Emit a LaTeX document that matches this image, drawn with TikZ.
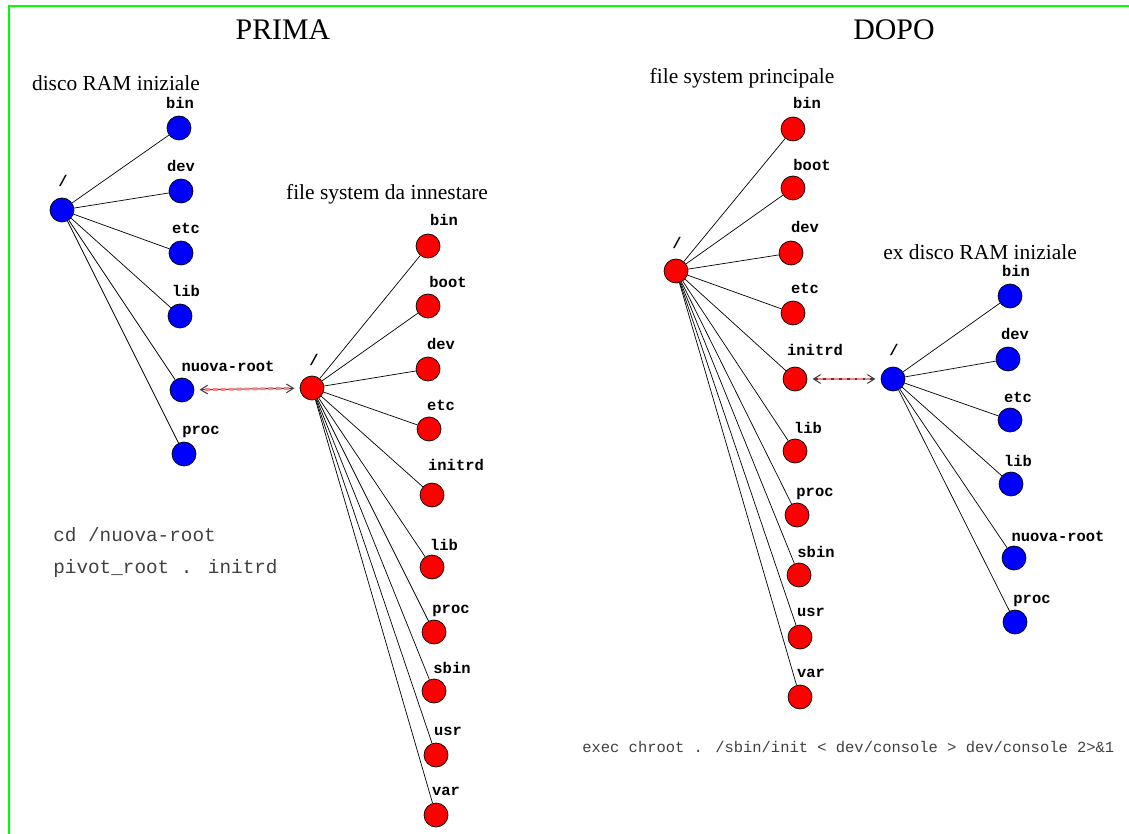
\documentclass[tikz,border=0pt]{standalone}
\usepackage{fontspec}
\setmainfont{Liberation Serif}
\newfontfamily\dirfont{Liberation Mono}
\usetikzlibrary{arrows.meta}

\begin{document}
\begin{tikzpicture}[x=0.02cm,y=-0.02cm,
	dir/.style={circle,draw=black,line width=0.4pt,minimum size=0.48cm,inner sep=0pt},
	ram/.style={dir,fill=blue},
	fs/.style={dir,fill=red},
	dname/.style={font=\dirfont\bfseries\fontsize{8.8}{10}\selectfont,inner sep=0pt,anchor=base},
	title/.style={font=\fontsize{17}{20}\selectfont,inner sep=0pt},
	tree/.style={font=\fontsize{12.2}{14}\selectfont,inner sep=0pt},
	cmd/.style={font=\dirfont\fontsize{11}{13}\selectfont,text=black!75,inner sep=0pt,anchor=base west},
	move/.style={<->,>={Straight Barb[length=4pt,width=5pt]},draw=black!75,line width=0.6pt,
		shorten <=3pt,shorten >=3pt,
		postaction={draw=red!50,-,dash pattern=on 3pt off 1.5pt,line width=1.6pt,shorten <=6pt,shorten >=6pt}}]
	\useasboundingbox (0,0) rectangle (1129,834);
	%% frame
	\draw[green,line width=0.045cm] (9,834) -- (9,6) -- (1129,6);
	%% headings
	\node[title] (prima) at (283,30) {PRIMA};
	\node[title] (dopo) at (894,30) {DOPO};

	%% PRIMA: initial RAM disk
	\node[tree] (t-ram) at (116,83) {disco RAM iniziale};
	\node[ram] (a) at (62,210) {};
	\node[dname] (a-l) at (63,187) {/};
	\foreach \id/\x/\y/\lx/\ly/\txt in {bin/179/128/180/109/bin, dev/181/191/181/172/dev,
		etc/181/253/186/234/etc, lib/180/316/186/297/lib,
		nr/182/390/228/372/nuova-root, proc/184/454/201/435/proc}{
		\node[ram] (a-\id) at (\x,\y) {};
		\node[dname] (a-\id-l) at (\lx,\ly) {\txt};
		\draw (a) -- (a-\id);
	}

	%% PRIMA: file system to be mounted
	\node[tree] (t-fs) at (387,194) {file system da innestare};
	\node[fs] (b) at (312,388) {};
	\node[dname] (b-l) at (314,366) {/};
	\foreach \id/\x/\y/\lx/\ly in {bin/428/246/444/226, boot/428/306/448/288,
		dev/428/369/441/350, etc/429/429/441/411, initrd/432/495/456/470,
		lib/432/567/444/550, proc/434/632/451/613, sbin/434/691/452/673,
		usr/436/755/448/735, var/436/815/446/795}{
		\node[fs] (b-\id) at (\x,\y) {};
		\node[dname] (b-\id-l) at (\lx,\ly) {\id};
		\draw (b) -- (b-\id);
	}
	\draw[move] (a-nr) -- (b);

	\node[cmd] (cmd1) at (53,541) {cd /nuova-root};
	\node[cmd] (cmd2) at (53,573) {pivot\_root . initrd};

	%% DOPO: main file system
	\node[tree] (t-main) at (742,78) {file system principale};
	\node[fs] (c) at (676,271) {};
	\node[dname] (c-l) at (677,249) {/};
	\foreach \id/\x/\y/\lx/\ly in {bin/793/129/807/109, boot/793/188/812/171,
		dev/791/253/805/233, etc/793/313/805/294, initrd/795/379/815/356,
		lib/795/451/808/434, proc/797/515/815/496, sbin/799/575/816/557,
		usr/800/637/811/616, var/800/697/811/677}{
		\node[fs] (c-\id) at (\x,\y) {};
		\node[dname] (c-\id-l) at (\lx,\ly) {\id};
		\draw (c) -- (c-\id);
	}

	%% DOPO: old RAM disk
	\node[tree] (t-exram) at (980,252) {ex disco RAM iniziale};
	\node[ram] (d) at (893,379) {};
	\node[dname] (d-l) at (894,356) {/};
	\foreach \id/\x/\y/\lx/\ly/\txt in {bin/1010/296/1016/277/bin, dev/1008/359/1015/340/dev,
		etc/1010/420/1018/402/etc, lib/1011/484/1018/466/lib,
		nr/1014/558/1058/541/nuova-root, proc/1015/622/1032/603/proc}{
		\node[ram] (d-\id) at (\x,\y) {};
		\node[dname] (d-\id-l) at (\lx,\ly) {\txt};
		\draw (d) -- (d-\id);
	}
	\draw[move] (c-initrd) -- (d);

	\node[cmd,font=\dirfont\fontsize{8.8}{10}\selectfont] (cmd3) at (582,752)
		{exec chroot . /sbin/init < dev/console > dev/console 2>\&1};
\end{tikzpicture}
\end{document}
